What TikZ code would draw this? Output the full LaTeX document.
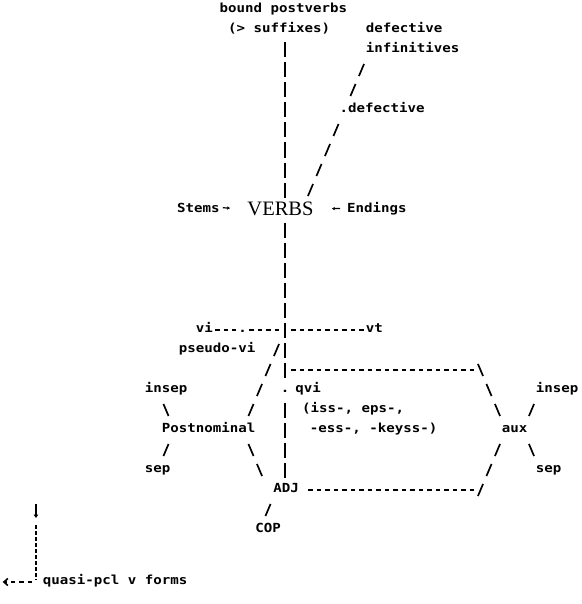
\documentclass[tikz,border=0pt]{standalone}
\usepackage{fontspec}
\newfontfamily\tw{DejaVu Sans Mono}[FakeStretch=1.1295]
\newfontfamily\vf{Liberation Serif}
\usetikzlibrary{arrows.meta}
\begin{document}
\begin{tikzpicture}[x=8.5pt,y=-20pt,
  txt/.style={font={\tw\bfseries\fontsize{12.5pt}{14pt}\selectfont}, inner sep=0pt, anchor=mid west},
  vbar/.style={line width=1.6pt, dash pattern=on 15pt off 5pt},
  hdash/.style={line width=1.6pt, dash pattern=on 4.5pt off 4pt, shorten <=2pt, shorten >=2pt},
  slashline/.style={line width=1.7pt, dash pattern=on 13.04pt off 8.69pt},
  glypharrow/.style={line width=1.2pt, -{Latex[length=3pt,width=3.6pt]}},
  dotline/.style={line width=1.4pt, dash pattern=on 4pt off 2pt}
]
\useasboundingbox (-33.529,-0.5) rectangle (34.941,29.7);

% ---------- text nodes ----------
\node[txt] (bp)     at (-7.7,0)   {bound postverbs};
\node[txt] (suff)   at (-6.7,1)   {(> suffixes)};
\node[txt] (def1)   at (9.5,1)    {defective};
\node[txt] (inf)    at (9.5,2)    {infinitives};
\node[txt] (def2)   at (6.4,5)    {.defective};
\node[txt] (stems)  at (-12.7,10) {Stems};
\node[font={\vf\fontsize{20.5pt}{22pt}\selectfont}, inner sep=0pt] (verbs) at (-0.53,9.95) {VERBS};
\node[txt] (endings) at (7.3,10)  {Endings};
\node[txt] (vi)     at (-10.5,16) {vi};
\node[txt] (vidot)  at (-5.5,16)  {.};
\node[txt] (vt)     at (9.5,16)   {vt};
\node[txt] (pvi)    at (-12.5,17) {pseudo-vi};
\node[txt] (insepL) at (-16.5,19) {insep};
\node[txt] (qdot)   at (-0.5,19)  {.};
\node[txt] (qvi)    at (1.2,19)   {qvi};
\node[txt] (insepR) at (29.5,19)  {insep};
\node[txt] (iss)    at (2.0,20)   {(iss-, eps-,};
\node[txt] (postn)  at (-14.5,21) {Postnominal};
\node[txt] (ess)    at (2.9,21)   {-ess-, -keyss-)};
\node[txt] (aux)    at (25.5,21)  {aux};
\node[txt] (sepL)   at (-16.5,23) {sep};
\node[txt] (sepR)   at (29.5,23)  {sep};
\node[txt] (adj)    at (-1.4,24)  {ADJ};
\node[txt] (cop)    at (-3.5,26)  {COP};
\node[txt] (quasi)  at (-28.5,28.6) {quasi-pcl v forms};

% ---------- coordinates ----------
\coordinate (vt1) at (0,1.625);  \coordinate (vt2) at (0,9.375);
\coordinate (vb1) at (0,10.625); \coordinate (vb2) at (0,18.375);
\coordinate (vb3) at (0,19.625); \coordinate (vb4) at (0,23.375);
\coordinate (d1) at (9.3,2.7);   \coordinate (d2) at (7.7,4.3);
\coordinate (d3) at (6.3,5.7);   \coordinate (d4) at (2.7,9.3);
\coordinate (jl) at (-0.5,16);   \coordinate (jr) at (0.5,16);
\coordinate (h1) at (0.5,18);    \coordinate (h2) at (22.5,18);
\coordinate (h3) at (2.5,24);    \coordinate (h4) at (22.5,24);
\coordinate (s1) at (22.7,17.7); \coordinate (s2) at (25.3,20.3);
\coordinate (s3) at (25.3,21.7); \coordinate (s4) at (22.7,24.3);
\coordinate (a1) at (29.3,19.7); \coordinate (a2) at (28.7,20.3);
\coordinate (a3) at (28.7,21.7); \coordinate (a4) at (29.3,22.3);
\coordinate (l1) at (-14.3,19.7); \coordinate (l2) at (-13.7,20.3);
\coordinate (l3) at (-13.7,21.7); \coordinate (l4) at (-14.3,22.3);
\coordinate (p1) at (-0.7,16.7); \coordinate (p2) at (-4.3,20.3);
\coordinate (p3) at (-4.3,21.7); \coordinate (p4) at (-2.7,23.3);
\coordinate (c1) at (-1.7,24.7); \coordinate (c2) at (-2.3,25.3);
\coordinate (q1) at (-29.3,24.7); \coordinate (q2) at (-29.3,25.4);
\coordinate (q3) at (-29.3,25.75); \coordinate (q4) at (-29.3,28.5);
\coordinate (q5) at (-33.45,28.6);

% ---------- connectors ----------
\draw[vbar] (vt1) -- (vt2);
\draw[vbar] (vb1) -- (vb2);
\draw[vbar] (vb3) -- (vb4);
\draw[slashline] (d1) -- (d2);
\draw[slashline] (d3) -- (d4);
\draw[glypharrow, shorten <=3pt, shorten >=17pt] (stems.east) -- (verbs.west);
\draw[glypharrow, shorten <=7pt, shorten >=18pt] (endings.west) -- (verbs.east);
\draw[hdash] (vi.mid east) -- (vidot.mid west);
\draw[hdash] (vidot.mid east) -- (jl);
\draw[hdash] (jr) -- (vt.mid west);
\draw[hdash] (h1) -- (h2);
\draw[hdash] (h3) -- (h4);
\draw[slashline] (s1) -- (s2);
\draw[slashline] (s3) -- (s4);
\draw[slashline] (a1) -- (a2);
\draw[slashline] (a3) -- (a4);
\draw[slashline] (l1) -- (l2);
\draw[slashline] (l3) -- (l4);
\draw[slashline] (p1) -- (p2);
\draw[slashline] (p3) -- (p4);
\draw[slashline] (c1) -- (c2);
\draw[line width=1.3pt, -{Triangle[length=3.5pt,width=4.5pt]}] (q1) -- (q2);
\draw[dotline] (q3) -- (q4);
\draw[hdash, shorten <=10.5pt, -{Straight Barb[length=4pt,width=7pt]}] (quasi.mid west) -- (q5);
\end{tikzpicture}
\end{document}
